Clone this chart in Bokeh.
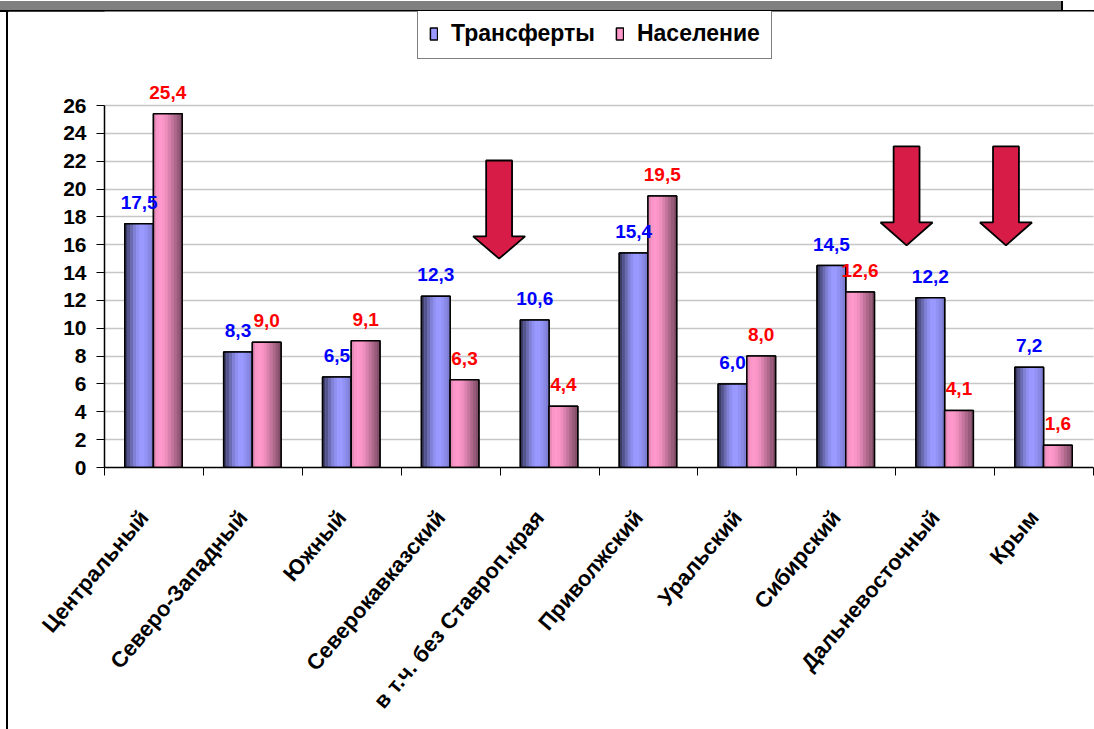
import numpy as np
from bokeh.plotting import figure
from bokeh.layouts import column, row
from bokeh.models import (Range1d, FixedTicker, ColumnDataSource, LabelSet,
                          Legend, LegendItem, Div)
from bokeh.embed import file_html
from bokeh.resources import INLINE
from bokeh.core.properties import value

# ---------------- data ----------------
categories = ["Центральный", "Северо-Западный", "Южный", "Северокавказский",
              "в т.ч. без Ставроп.края", "Приволжский", "Уральский",
              "Сибирский", "Дальневосточный", "Крым"]
transfers = [17.5, 8.3, 6.5, 12.3, 10.6, 15.4, 6.0, 14.5, 12.2, 7.2]
population = [25.4, 9.0, 9.1, 6.3, 4.4, 19.5, 8.0, 12.6, 4.1, 1.6]
series_names = ["Трансферты", "Население"]
y_ticks = list(range(0, 27, 2))

# decorative arrows: (x position, top, head start, tip)
arrow_specs = [(3.99, 22.05, 16.6, 15.0),
               (8.11, 23.06, 17.6, 15.95),
               (9.115, 23.06, 17.6, 15.95)]

FONT = "Liberation Sans"
PW, PH = 1086, 718          # figure size (placed at page x=8, y=11)
PX_PER_UNIT = 362 / 26.0
FRAME_H = 456

p = figure(width=PW, height=PH, output_backend="svg", toolbar_location=None,
           x_range=Range1d(0, 10), y_range=Range1d(0, FRAME_H / PX_PER_UNIT),
           min_border_left=96, min_border_right=1, min_border_top=0,
           min_border_bottom=PH - FRAME_H)
p.outline_line_color = None
p.background_fill_color = "white"
p.border_fill_color = "white"

n = len(categories)
idx = np.arange(n)
bw = 0.29
xb = idx + 0.5 - 0.15
xp = idx + 0.5 + 0.14

blue_rgb = (153, 153, 255)
pink_rgb = (255, 153, 204)
blue_prof = [0.40, 0.55, 0.70, 0.84, 0.94, 1.0, 1.0, 0.96, 0.9, 0.82]
pink_prof = [0.90, 0.98, 1.0, 0.98, 0.93, 0.85, 0.77, 0.68, 0.60, 0.52]


def shade(rgb, f):
    return "#%02x%02x%02x" % tuple(int(min(255, max(0, c * f))) for c in rgb)


def draw_series(xc, vals, rgb, prof):
    base = p.vbar(x=xc, top=vals, bottom=0, width=bw, fill_color=shade(rgb, 1.0),
                  line_color="black", line_width=1.5)
    N = len(prof)
    sw = bw / N
    for k, f in enumerate(prof):
        p.vbar(x=xc - bw / 2 + (k + 0.5) * sw, top=vals, bottom=0, width=sw * 1.08,
               fill_color=shade(rgb, f), line_color=None)
    p.vbar(x=xc, top=vals, bottom=0, width=bw, fill_color=None,
           line_color="black", line_width=1.5)
    return base


rb = draw_series(xb, transfers, blue_rgb, blue_prof)
rp = draw_series(xp, population, pink_rgb, pink_prof)

# arrows
axs, ays = [], []
sh, hh = 0.131, 0.263
for cx, top, hs, tip in arrow_specs:
    axs.append([cx - sh, cx + sh, cx + sh, cx + hh, cx, cx - hh, cx - sh])
    ays.append([top, top, hs, hs, tip, hs, hs])
p.patches(axs, ays, fill_color="#D71C48", line_color="black", line_width=1.8)

# data labels
fmt = lambda v: f"{v:.1f}".replace(".", ",")
src_b = ColumnDataSource(dict(x=xb, y=transfers, t=[fmt(v) for v in transfers]))
src_p = ColumnDataSource(dict(x=xp, y=population, t=[fmt(v) for v in population]))
for src, col in ((src_b, "#0000FF"), (src_p, "#FF0000")):
    p.add_layout(LabelSet(x="x", y="y", text="t", source=src, text_align="center",
                          text_baseline="alphabetic", y_offset=15, text_color=col,
                          text_font=value(FONT), text_font_style="bold",
                          text_font_size="19px"))

# axes
lab_shift = 0.1
p.xaxis.ticker = FixedTicker(ticks=[i + 0.5 - lab_shift for i in range(n)],
                             minor_ticks=list(range(n + 1)))
p.xaxis.major_label_overrides = {i + 0.5 - lab_shift: c for i, c in enumerate(categories)}
p.xaxis.bounds = (0, 10)
p.xaxis.major_tick_line_color = None
p.xaxis.major_tick_in = 0
p.xaxis.major_tick_out = 8
p.xaxis.minor_tick_line_color = "black"
p.xaxis.minor_tick_in = 0
p.xaxis.minor_tick_out = 8
p.xaxis.major_label_orientation = 0.87
p.xaxis.major_label_standoff = 38
p.xaxis.major_label_text_font = FONT
p.xaxis.major_label_text_font_style = "bold"
p.xaxis.major_label_text_font_size = "22px"
p.xaxis.major_label_text_color = "black"
p.xaxis.axis_line_color = "black"
p.xaxis.axis_line_width = 1.5

p.yaxis.ticker = FixedTicker(ticks=y_ticks)
p.yaxis.bounds = (0, 26)
p.yaxis.major_tick_in = 0
p.yaxis.major_tick_out = 8
p.yaxis.minor_tick_line_color = None
p.yaxis.major_label_standoff = 10
p.yaxis.major_label_text_font = FONT
p.yaxis.major_label_text_font_style = "bold"
p.yaxis.major_label_text_font_size = "21px"
p.yaxis.major_label_text_color = "black"
p.yaxis.axis_line_color = "black"
p.yaxis.axis_line_width = 1.5

p.xgrid.grid_line_color = None
p.ygrid.ticker = FixedTicker(ticks=y_ticks)
p.ygrid.grid_line_color = "#8c8c8c"
p.ygrid.grid_line_dash = "1 1"
p.ygrid.grid_line_width = 1.5
p.ygrid.level = "underlay"

legend = Legend(items=[LegendItem(label=series_names[0], renderers=[rb]),
                       LegendItem(label=series_names[1], renderers=[rp])],
                location=(313, 408), orientation="horizontal",
                glyph_width=9, glyph_height=15, label_height=20,
                label_text_font=FONT, label_text_font_style="bold",
                label_text_font_size="23px", label_text_color="black",
                label_standoff=13, spacing=20,
                padding=11, margin=0, border_line_color="black",
                border_line_width=1.5, background_fill_color="white",
                background_fill_alpha=1.0)
p.add_layout(legend, "center")

# slide frame decorations (grey strip on top, black border lines)
top_html = ('<div style="position:relative;width:1094px;height:11px;">'
            '<div style="position:absolute;left:0;top:0;width:1061px;height:9px;background:#808080"></div>'
            '<div style="position:absolute;left:1061px;top:0;width:2px;height:9px;background:#000"></div>'
            '<div style="position:absolute;left:0;top:9px;width:1094px;height:2px;background:#000"></div>'
            '</div>')
left_html = ('<div style="position:relative;width:8px;height:718px;">'
             '<div style="position:absolute;left:6px;top:0;width:2px;height:718px;background:#000"></div>'
             '</div>')
top_div = Div(text=top_html, width=1094, height=11, margin=0)
left_div = Div(text=left_html, width=8, height=PH, margin=0)
layout = column(top_div, row(left_div, p, spacing=0, margin=0), spacing=0, margin=0)

open("out.html", "w").write(file_html(layout, INLINE))
